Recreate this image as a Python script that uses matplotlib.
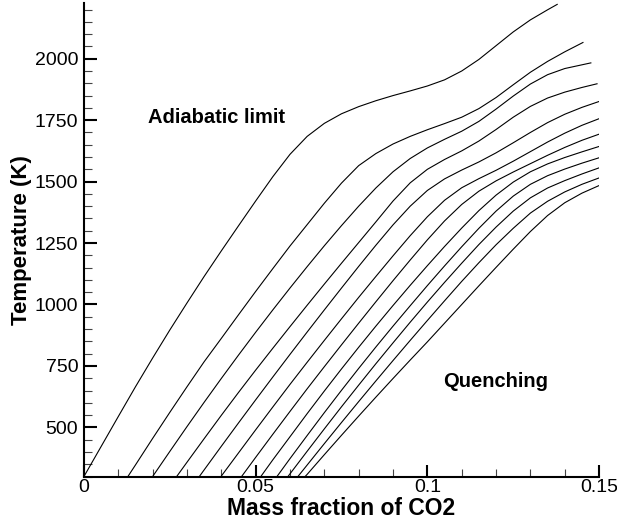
import matplotlib
matplotlib.use("Agg")
import matplotlib.pyplot as plt
from matplotlib.ticker import MultipleLocator

plt.rcParams['font.family'] = ['Liberation Sans', 'DejaVu Sans']

# Temperature (K) vs CO2 mass fraction.
# first curve is the adiabatic limit, the others go towards quenching
grid = [0.005 * i for i in range(31)]  # 0, 0.005, ..., 0.15

curve_x = [
    grid[:28] + [0.1378],
    [0.0128] + grid[3:29] + [0.1453],
    [0.0200] + grid[5:29] + [0.1476],
    [0.0270] + grid[6:30] + [0.1494],
    [0.0336] + grid[7:31],
    [0.0399] + grid[9:31],
    [0.0459] + grid[10:31],
    [0.0515] + grid[11:31],
    [0.0562] + grid[12:31],
    [0.0594] + grid[13:31],
    [0.0623] + grid[13:31],
    [0.0644] + grid[13:31],
]
curve_T = [
    [300, 422, 544, 665, 782, 896, 1006, 1114, 1218, 1320, 1421, 1520, 1611, 1684, 1737,
     1776, 1805, 1829, 1850, 1869, 1889, 1914, 1950, 1997, 2053, 2109, 2158, 2199, 2221],
    [300, 347, 455, 561, 665, 767, 862, 958, 1053, 1146, 1238, 1325, 1412, 1494, 1565,
     1614, 1653, 1684, 1711, 1736, 1762, 1797, 1842, 1894, 1945, 1989, 2028, 2066],
    [300, 402, 503, 602, 699, 794, 887, 978, 1067, 1154, 1239, 1321, 1400, 1474, 1540,
     1594, 1637, 1672, 1705, 1745, 1795, 1848, 1897, 1935, 1960, 1983],
    [300, 358, 454, 549, 642, 733, 822, 910, 997, 1083, 1168, 1252, 1336, 1421, 1495,
     1550, 1590, 1625, 1665, 1712, 1762, 1806, 1840, 1864, 1883, 1898],
    [300, 327, 423, 518, 612, 705, 797, 888, 978, 1067, 1155, 1241, 1324, 1400, 1464,
     1511, 1547, 1580, 1617, 1658, 1700, 1740, 1774, 1802, 1826],
    [300, 396, 490, 583, 675, 765, 854, 942, 1029, 1114, 1198, 1280, 1357, 1424, 1475,
     1512, 1546, 1583, 1622, 1661, 1697, 1729, 1756],
    [300, 378, 472, 565, 657, 747, 836, 924, 1011, 1097, 1181, 1263, 1340, 1407, 1461,
     1503, 1539, 1573, 1607, 1639, 1668, 1693],
    [300, 368, 462, 556, 648, 738, 826, 912, 996, 1078, 1158, 1236, 1311, 1382, 1445,
     1498, 1540, 1572, 1598, 1621, 1643],
    [300, 373, 467, 560, 651, 740, 827, 912, 995, 1077, 1157, 1235, 1310, 1380, 1441,
     1489, 1524, 1551, 1575, 1597],
    [300, 403, 494, 584, 672, 759, 844, 928, 1010, 1090, 1168, 1244, 1315, 1380, 1434,
     1474, 1504, 1531, 1556],
    [300, 347, 434, 520, 605, 689, 772, 854, 935, 1015, 1094, 1170, 1243, 1310, 1372,
     1420, 1458, 1489, 1515],
    [300, 309, 389, 468, 546, 623, 699, 774, 848, 924, 1000, 1076, 1151, 1225, 1297,
     1362, 1414, 1453, 1484],
]

x_major = [0, 0.05, 0.1, 0.15]
x_labels = ["0", "0.05", "0.1", "0.15"]
y_major = [500, 750, 1000, 1250, 1500, 1750, 2000]

fig = plt.figure(figsize=(6.17, 5.26), dpi=100)
ax = fig.add_axes([0.136, 0.094, 0.835, 0.9])

for xs, ts in zip(curve_x, curve_T):
    ax.plot(xs, ts, color='black', lw=0.8, solid_joinstyle='round')

ax.set_xlim(0, 0.15)
ax.set_ylim(300, 2226)

ax.spines['top'].set_visible(False)
ax.spines['right'].set_visible(False)
ax.spines['left'].set_linewidth(1.5)
ax.spines['bottom'].set_linewidth(1.5)

ax.set_xticks(x_major)
ax.set_xticklabels(x_labels)
ax.set_yticks(y_major)
ax.xaxis.set_minor_locator(MultipleLocator(0.01))
ax.yaxis.set_minor_locator(MultipleLocator(50))

ax.tick_params(which='major', direction='in', length=9, width=1.5, labelsize=14, pad=4)
ax.tick_params(axis='x', which='major', pad=2)
ax.tick_params(which='minor', direction='in', length=5.5, width=0.8, color='#444444')

ax.set_xlabel('Mass fraction of CO2', fontsize=16.5, fontweight='bold', labelpad=0.5)
ax.set_ylabel('Temperature (K)', fontsize=16, fontweight='bold', labelpad=2)

ax.text(0.0186, 1761, 'Adiabatic limit', fontsize=14.5, fontweight='bold', va='center')
ax.text(0.1046, 686, 'Quenching', fontsize=14.5, fontweight='bold', va='center')

fig.savefig('out.png', dpi=100)
